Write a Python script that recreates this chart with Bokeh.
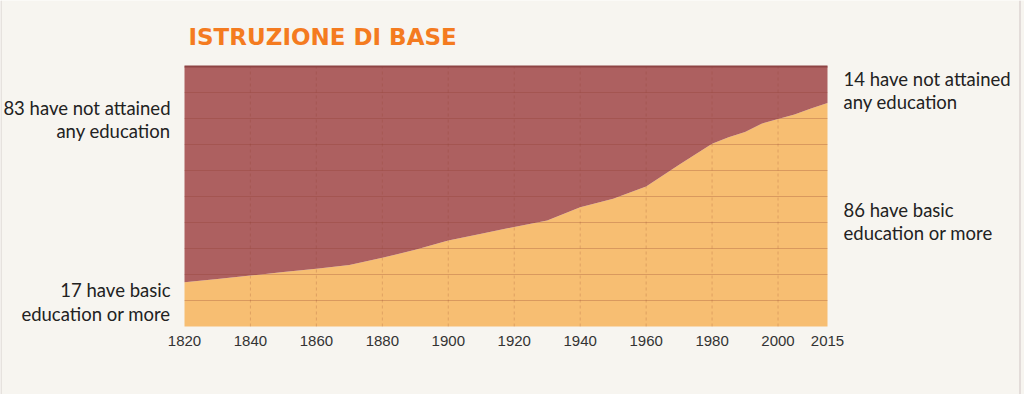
from bokeh.plotting import figure
from bokeh.models import Range1d, FixedTicker, Label, Span, ColumnDataSource
from bokeh.embed import file_html
from bokeh.resources import INLINE

years = [1820, 1830, 1840, 1850, 1860, 1870, 1880, 1890, 1900, 1910, 1920, 1930,
         1940, 1950, 1960, 1970, 1980, 1985, 1990, 1995, 2000, 2005, 2010, 2015]
basic = [17.0, 18.3, 19.6, 21.0, 22.2, 23.7, 26.4, 29.5, 33.1, 35.7, 38.3, 40.8,
         45.9, 49.1, 53.8, 62.2, 70.3, 72.8, 74.8, 78.0, 79.8, 81.5, 83.8, 86.0]
tick_years = [1820, 1840, 1860, 1880, 1900, 1920, 1940, 1960, 1980, 2000, 2015]
vgrid_years = [1840, 1860, 1880, 1900, 1920, 1940, 1960, 1980, 2000]
hgrid_values = [10, 20, 30, 40, 50, 60, 70, 80, 90]
title_text = "ISTRUZIONE DI BASE"
left_top = ["83 have not attained", "any education"]
left_bottom = ["17 have basic", "education or more"]
right_top = ["14 have not attained", "any education"]
right_bottom = ["86 have basic", "education or more"]

W, H = 1024, 394
# chart area in page pixels: x 184..827, y 66..326
FL, FR, FT, FB = 184, 827, 66, 326
x0, x1 = years[0], years[-1]
kx = (FR - FL) / (x1 - x0)
ky = (FB - FT) / 100.0
xr = Range1d(x0 - FL / kx, x1 + (W - FR) / kx)
yr = Range1d(-(H - FB) / ky, 100 + FT / ky)

def px_x(px):
    return xr.start + px / kx

def px_y(py):
    return (FB - py) / ky

src = ColumnDataSource(dict(x=years, y=basic, top=[100] * len(years), zero=[0] * len(years)))

p = figure(width=W, height=H, output_backend="svg", toolbar_location=None,
           x_range=xr, y_range=yr, min_border=0)
p.min_border_left = p.min_border_right = p.min_border_top = p.min_border_bottom = 0
p.background_fill_color = "#F7F5F0"
p.border_fill_color = "#F7F5F0"
p.outline_line_color = None
p.xgrid.visible = False
p.ygrid.visible = False

p.varea(x="x", y1="zero", y2="y", source=src, fill_color="#F7BE72")
p.varea(x="x", y1="y", y2="top", source=src, fill_color="#AD6060")

# grid lines
p.segment(x0=vgrid_years, y0=[0] * len(vgrid_years), x1=vgrid_years, y1=[100] * len(vgrid_years),
          line_color="#8B3A2A", line_alpha=0.22, line_dash="3 3", line_width=1)
p.segment(x0=[x0] * len(hgrid_values), y0=hgrid_values, x1=[x1] * len(hgrid_values), y1=hgrid_values,
          line_color="#8B3A2A", line_alpha=0.28, line_width=1)
p.segment(x0=[x0], y0=[100], x1=[x1], y1=[100], line_color="#8E4444", line_width=2)

p.yaxis.visible = False
p.xaxis.fixed_location = 0
p.xaxis.ticker = FixedTicker(ticks=tick_years)
p.xaxis.axis_line_color = None
p.xaxis.major_tick_line_color = None
p.xaxis.minor_tick_line_color = None
p.xaxis.major_label_text_font = "Liberation Sans"
p.xaxis.major_label_text_font_size = "15px"
p.xaxis.major_label_text_color = "#333333"
p.xaxis.major_label_standoff = 3

# page border lines
p.add_layout(Span(location=px_x(1019.5), dimension="height", line_color="#CFC3C3", line_width=1))
p.add_layout(Span(location=px_x(0.5), dimension="height", line_color="#D6D0CC", line_width=1))

def lab(text, px, py, align="left", **kw):
    p.add_layout(Label(x=px_x(px), y=px_y(py), text=text,
                       text_align=align, text_baseline="middle", **kw))

lab(title_text, 188, 36, text_font="DejaVu Sans", text_font_style="bold",
    text_font_size="23px", text_color="#F47B20")

def add_lines(lines, px, ys, align):
    for t, yy in zip(lines, ys):
        lab(t, px, yy, align, text_font="Lato", text_font_size="18.5px", text_color="#222222")

add_lines(left_top, 170, [107, 130], "right")
add_lines(left_bottom, 170, [289, 313], "right")
add_lines(right_top, 843, [78, 101], "left")
add_lines(right_bottom, 843, [209, 232], "left")

open("out.html", "w").write(file_html(p, INLINE))
